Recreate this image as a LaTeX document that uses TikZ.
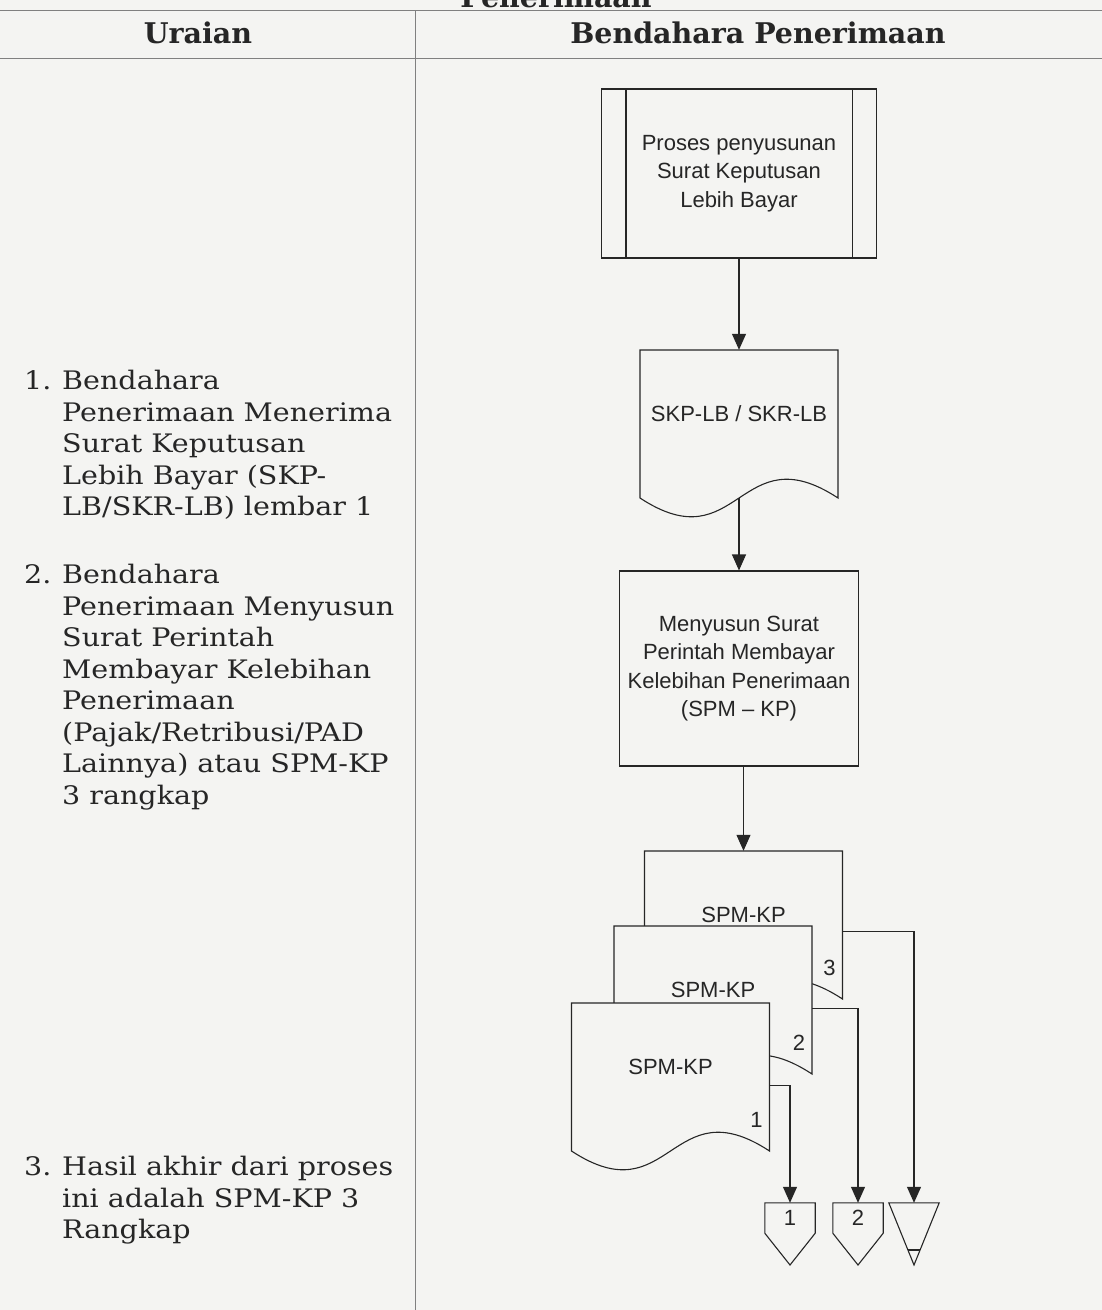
\documentclass[tikz,border=0pt]{standalone}
\usepackage{fontspec}
\setmainfont{DejaVu Serif}[FakeStretch=1.12]
\newfontfamily\judulfont{DejaVu Serif}
\setsansfont{Liberation Sans}
\definecolor{latar}{HTML}{F4F4F2}
\definecolor{tinta}{HTML}{262626}
\definecolor{tabel}{HTML}{808080}
\usetikzlibrary{arrows.meta}

\newcommand{\flowfont}{\sffamily\fontsize{22}{28.3}\selectfont}
% document outline around a centre (x,y), wavy bottom
\newcommand{\kertas}[2]{%
  \draw[garis, fill=latar] (#1-99,#2-74) -- (#1+99,#2-74) -- (#1+99,#2+74)
    .. controls (#1,#2+74-65) and (#1,#2+74+65) .. (#1-99,#2+74) -- cycle;}

\tikzset{
  garis/.style={draw=tinta, line width=1.1pt},
  panah/.style={garis, -{Triangle[length=16pt,width=14pt]}},
  proses/.style={garis, fill=latar, align=center, inner sep=0pt, font=\flowfont, text=tinta},
  dokumen/.style={minimum width=198pt, minimum height=148pt, inner sep=0pt, font=\flowfont, text=tinta, text depth=20pt},
  angka/.style={inner sep=0pt, font=\flowfont, text=tinta},
  konektor/.style={minimum width=50pt, minimum height=30pt, inner sep=0pt, font=\flowfont, text=tinta},
  uraian/.style={anchor=north west, align=left, inner sep=0pt, font=\rmfamily\fontsize{25.5}{31.5}\selectfont, text=tinta},
  judul/.style={inner sep=0pt, font=\judulfont\bfseries\fontsize{28.5}{34}\selectfont, text=tinta},
  tabelgaris/.style={draw=tabel, line width=1pt}
}

\begin{document}
\begin{tikzpicture}[x=1pt, y=-1pt]
\fill[latar] (0,0) rectangle (1102,1310);
\useasboundingbox (0,0) rectangle (1102,1310);
% table frame
\draw[tabelgaris] (0,10) -- (1102,10);
\draw[tabelgaris] (0,58) -- (1102,58);
\draw[tabelgaris] (415,10) -- (415,1310);
\node[judul, anchor=base] (hJudul) at (556,7) {Penerimaan};
\node[judul] (hUraian) at (198,33) {Uraian};
\node[judul] (hBendahara) at (758,33) {Bendahara Penerimaan};
% uraian column
\node[uraian] (n1) at (24,370) {1.};
\node[uraian] (u1) at (62,370) {Bendahara\\Penerimaan Menerima\\Surat Keputusan\\Lebih Bayar (SKP-\\LB/SKR-LB) lembar 1};
\node[uraian] (n2) at (24,564) {2.};
\node[uraian] (u2) at (62,564) {Bendahara\\Penerimaan Menyusun\\Surat Perintah\\Membayar Kelebihan\\Penerimaan\\(Pajak/Retribusi/PAD\\Lainnya) atau SPM-KP\\3 rangkap};
\node[uraian] (n3) at (24,1156) {3.};
\node[uraian] (u3) at (62,1156) {Hasil akhir dari proses\\ini adalah SPM-KP 3\\Rangkap};
% predefined process
\node[proses, minimum width=275pt, minimum height=169pt] (p1) at (739,173.5) {Proses penyusunan\\Surat Keputusan\\Lebih Bayar};
\draw[garis] ([xshift=25pt]p1.north west) -- ([xshift=25pt]p1.south west);
\draw[garis] ([xshift=-25pt]p1.north east) -- ([xshift=-25pt]p1.south east);
% SKP-LB document
\kertas{739}{424}
\node[dokumen] (skp) at (739,424) {SKP-LB / SKR-LB};
% SPM-KP process
\node[proses, minimum width=239pt, minimum height=195pt] (p2) at (739,668.5) {Menyusun Surat\\Perintah Membayar\\Kelebihan Penerimaan\\(SPM -- KP)};
% three copies, back to front
\foreach \nm/\x/\y/\k in {d3/743.5/925/3, d2/713/1000/2, d1/670.5/1077/1}{
  \kertas{\x}{\y}
  \node[dokumen] (\nm) at (\x,\y) {SPM-KP};
  \node[angka] (\nm-k) at (\x+86,\y+43) {\k};
}
% off-page connectors
\foreach \nm/\x/\k in {k1/790/1, k2/858/2}{
  \node[konektor] (\nm) at (\x,1218) {\k};
  \draw[garis] (\nm.north west) -- (\nm.north east) -- (\nm.south east) -- (\x,1265) -- (\nm.south west) -- cycle;
}
\node[konektor] (k3) at (914,1218) {};
\draw[garis] (k3.north west) -- (k3.north east) -- (914,1265) -- cycle;
\draw[garis] (908.2,1250) -- (919.8,1250);
% flow
\draw[panah] (p1) -- (skp);
\draw[panah] (skp.south) -- (p2.north);
\draw[panah] (p2.south -| d3.north) -- (d3.north);
\draw[panah] ([yshift=-81pt]d3.north east) -| (k3.north);
\draw[panah] ([yshift=-83pt]d2.north east) -| (k2.north);
\draw[panah] ([yshift=-83pt]d1.north east) -| (k1.north);
\end{tikzpicture}
\end{document}
